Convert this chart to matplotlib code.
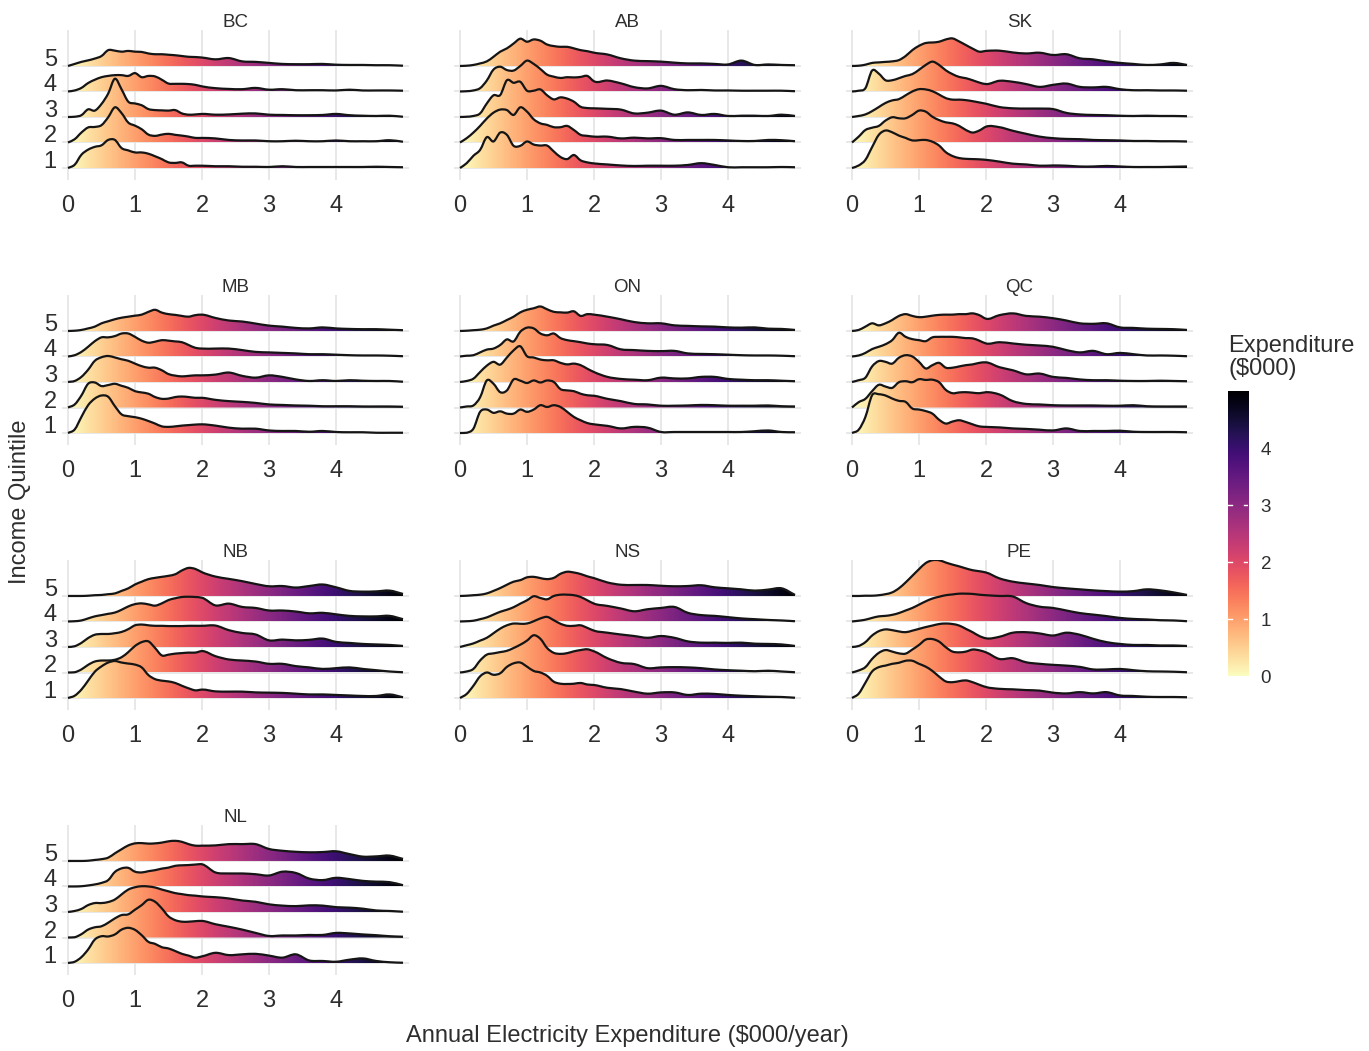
import numpy as np
import matplotlib.pyplot as plt
from matplotlib.path import Path
from matplotlib.patches import PathPatch

plt.rcParams['font.family'] = ['Liberation Sans', 'DejaVu Sans']

# expenditure grid ($000/year) the ridge heights are read at
x = [0, 0.1, 0.2, 0.3, 0.4, 0.5, 0.6, 0.7, 0.8, 0.9, 1.0, 1.1, 1.2, 1.3, 1.4,
     1.5, 1.6, 1.7, 1.8, 1.9, 2.0, 2.2, 2.4, 2.6, 2.8, 3.0, 3.2, 3.4, 3.6,
     3.8, 4.0, 4.2, 4.4, 4.6, 4.8, 5.0]

provinces = ['BC', 'AB', 'SK', 'MB', 'ON', 'QC', 'NB', 'NS', 'PE', 'NL']
quintiles = ['1', '2', '3', '4', '5']
x_ticks = [0, 1, 2, 3, 4]

# scaled density (in ridge-row units) for income quintiles 1..5
bc = [
    [0, .13, .52, .72, .83, .89, 1.10, 1.10, .78, .69, .61, .61, .56, .46, .35, .22, .20, .22, .09, .09, .09,
     .07, .07, .05, .05, .04, .07, .04, .04, .04, .04, .04, .04, .05, .04, .03],
    [0, .13, .39, .59, .61, .68, .99, 1.38, 1.15, .78, .66, .52, .31, .26, .31, .34, .30, .27, .23, .18, .18,
     .16, .10, .08, .08, .05, .05, .07, .05, .05, .08, .05, .05, .05, .09, .03],
    [0, .01, .07, .30, .25, .51, .92, 1.50, 1.08, .60, .53, .46, .31, .27, .26, .25, .27, .14, .09, .10, .12,
     .09, .10, .13, .14, .09, .08, .07, .07, .08, .12, .07, .05, .04, .05, .01],
    [0, .04, .14, .33, .46, .56, .61, .64, .64, .61, .72, .56, .61, .59, .46, .31, .30, .30, .29, .26, .20,
     .13, .10, .09, .14, .07, .09, .05, .05, .05, .04, .07, .04, .04, .04, .03],
    [0, .08, .16, .22, .29, .39, .62, .60, .56, .59, .56, .55, .49, .46, .46, .44, .42, .39, .36, .35, .33,
     .26, .31, .18, .16, .12, .08, .07, .07, .08, .05, .04, .04, .03, .03, .01],
]
ab = [
    [0, .19, .48, .71, 1.21, 1.04, 1.39, 1.30, .87, .87, 1.04, .92, .88, .88, .65, .43, .35, .51, .30, .22, .18,
     .14, .10, .08, .09, .09, .09, .12, .19, .12, .03, .03, .03, .03, .04, .03],
    [0, .17, .39, .65, .94, 1.17, 1.29, 1.27, 1.08, 1.38, 1.21, .91, .75, .69, .60, .60, .65, .49, .30, .26, .23,
     .23, .16, .19, .16, .17, .10, .10, .10, .10, .08, .06, .06, .10, .09, .05],
    [0, .01, .04, .14, .53, .85, .86, 1.44, 1.34, 1.38, 1.03, 1.03, 1.08, .85, .69, .77, .72, .60, .40, .35, .34,
     .32, .29, .14, .17, .25, .09, .18, .08, .12, .04, .05, .05, .04, .09, .04],
    [0, .01, .04, .13, .43, .86, .97, .84, .82, 1.00, 1.21, 1.08, .88, .66, .58, .53, .56, .55, .57, .61, .40,
     .43, .32, .17, .12, .22, .09, .05, .06, .04, .04, .03, .03, .03, .03, .01],
    [0, .01, .04, .10, .18, .36, .56, .69, .88, 1.07, .95, 1.04, .99, .84, .78, .75, .75, .69, .62, .58, .52,
     .45, .30, .21, .19, .17, .13, .10, .10, .08, .06, .21, .04, .06, .04, .03],
]
sk = [
    [0, .10, .32, .82, 1.30, 1.47, 1.40, 1.27, 1.18, 1.08, 1.09, 1.10, 1.03, .88, .62, .47, .39, .36, .35, .34, .32,
     .25, .17, .14, .09, .10, .09, .06, .06, .08, .06, .04, .04, .04, .05, .06],
    [0, .23, .49, .58, .65, .86, .99, .95, .95, 1.08, 1.25, 1.21, 1.01, .88, .79, .75, .65, .49, .39, .47, .62,
     .60, .46, .34, .23, .17, .14, .13, .10, .09, .08, .06, .06, .05, .05, .04],
    [0, .04, .10, .23, .39, .55, .65, .70, .85, 1.00, 1.09, 1.08, 1.01, .88, .74, .68, .68, .66, .62, .57, .52,
     .39, .34, .33, .33, .31, .16, .10, .08, .07, .05, .04, .05, .04, .04, .03],
    [0, .03, .13, .82, .70, .44, .44, .52, .61, .68, .85, 1.04, 1.17, 1.04, .83, .68, .57, .52, .44, .35, .29,
     .42, .38, .29, .18, .26, .31, .18, .16, .18, .09, .05, .05, .04, .04, .03],
    [0, .01, .05, .12, .14, .16, .18, .23, .39, .62, .79, .90, .92, .95, 1.04, 1.08, .96, .82, .68, .56, .59,
     .60, .53, .49, .52, .43, .46, .30, .26, .18, .12, .08, .04, .06, .12, .04],
]
mb = [
    [0, .14, .63, 1.09, 1.35, 1.47, 1.42, 1.05, .73, .66, .62, .56, .47, .37, .26, .24, .26, .29, .31, .33, .34,
     .29, .21, .17, .17, .10, .08, .08, .05, .08, .04, .03, .03, .01, .01, .01],
    [0, .12, .47, .93, .98, .84, .88, .93, .85, .77, .64, .59, .54, .41, .34, .35, .41, .43, .41, .38, .38,
     .30, .25, .22, .18, .12, .10, .08, .07, .05, .05, .05, .04, .04, .04, .03],
    [0, .04, .20, .48, .83, .97, 1.02, .96, .89, .83, .72, .62, .56, .56, .46, .31, .25, .22, .24, .26, .26,
     .29, .37, .24, .17, .26, .20, .10, .04, .07, .04, .07, .05, .04, .04, .01],
    [0, .05, .18, .38, .60, .75, .75, .80, .90, .90, .77, .62, .54, .58, .64, .62, .59, .56, .45, .34, .31,
     .31, .31, .25, .18, .16, .14, .12, .09, .09, .07, .05, .04, .04, .03, .01],
    [0, .01, .04, .10, .17, .30, .38, .46, .52, .56, .60, .64, .75, .83, .72, .66, .63, .59, .56, .62, .64,
     .51, .41, .37, .29, .21, .17, .12, .10, .14, .10, .08, .07, .07, .05, .03],
]
on = [
    [0, .01, .17, .83, .92, .79, .85, .76, .76, .92, .83, .92, 1.09, 1.02, 1.09, 1.02, .83, .63, .50, .39, .34,
     .28, .18, .24, .21, .04, .04, .04, .04, .04, .04, .04, .07, .10, .04, .03],
    [0, .04, .08, .40, 1.06, .93, .60, .67, 1.10, 1.05, .96, 1.06, .98, 1.06, 1.00, .72, .67, .64, .54, .48, .46,
     .34, .25, .14, .12, .07, .07, .08, .10, .09, .07, .07, .07, .08, .05, .04],
    [0, .04, .13, .39, .64, .79, .68, .96, 1.24, 1.40, 1.01, .96, .88, .85, .85, .75, .69, .72, .66, .52, .39,
     .20, .12, .09, .07, .17, .14, .14, .20, .20, .12, .09, .07, .07, .05, .03],
    [0, .03, .05, .16, .27, .31, .45, .67, .59, .97, 1.13, 1.10, .90, .83, .90, .72, .64, .60, .56, .51, .48,
     .45, .28, .25, .22, .21, .22, .12, .10, .09, .07, .05, .04, .04, .03, .01],
    [0, .01, .03, .05, .10, .21, .30, .43, .56, .73, .83, .89, .96, .85, .75, .73, .72, .77, .59, .66, .64,
     .56, .46, .35, .30, .30, .22, .20, .18, .17, .14, .13, .14, .09, .08, .04],
]
qc = [
    [0, .13, .63, 1.48, 1.52, 1.47, 1.35, 1.26, 1.22, .96, .92, .86, .76, .52, .37, .45, .50, .43, .34, .26, .24,
     .22, .18, .16, .13, .10, .18, .08, .08, .08, .09, .05, .04, .04, .04, .03],
    [0, .21, .34, .64, .89, .82, .77, .99, 1.03, .99, 1.11, 1.08, 1.09, .99, .69, .56, .59, .60, .58, .56, .60,
     .51, .25, .14, .12, .09, .08, .08, .08, .07, .07, .09, .05, .04, .04, .04],
    [0, .07, .17, .61, .82, .79, .72, .95, 1.05, 1.00, .79, .53, .66, .75, .56, .56, .61, .66, .69, .75, .77,
     .58, .46, .30, .33, .20, .16, .10, .07, .07, .05, .04, .04, .05, .04, .03],
    [0, .04, .14, .29, .38, .48, .64, .93, .77, .68, .64, .60, .75, .77, .77, .77, .75, .72, .71, .62, .51,
     .56, .51, .46, .43, .38, .25, .16, .22, .09, .14, .09, .04, .04, .03, .01],
    [0, .04, .17, .30, .22, .30, .43, .59, .66, .59, .54, .56, .60, .63, .64, .64, .66, .66, .69, .62, .48,
     .62, .69, .59, .56, .50, .41, .30, .28, .30, .14, .12, .09, .08, .07, .04],
]
nb = [
    [0, .09, .33, .68, 1.03, 1.24, 1.39, 1.45, 1.39, 1.35, 1.31, 1.20, .90, .74, .68, .65, .59, .48, .38, .30, .33,
     .26, .25, .25, .22, .21, .20, .17, .14, .14, .12, .10, .08, .08, .14, .03],
    [0, .01, .12, .30, .43, .47, .47, .50, .60, .80, 1.04, 1.19, 1.22, .96, .67, .70, .74, .76, .78, .78, .84,
     .64, .51, .47, .43, .34, .34, .25, .20, .14, .17, .20, .14, .09, .04, .01],
    [0, .03, .16, .35, .48, .51, .51, .54, .59, .70, .85, .88, .85, .83, .83, .82, .82, .82, .83, .83, .83,
     .84, .66, .55, .49, .26, .29, .26, .28, .33, .20, .16, .12, .10, .08, .04],
    [0, .01, .04, .12, .20, .25, .30, .35, .46, .59, .68, .71, .67, .62, .71, .84, .91, .96, .97, .96, .93,
     .63, .70, .57, .53, .43, .43, .39, .32, .34, .28, .22, .20, .20, .22, .09],
    [0, 0, 0, .01, .03, .04, .07, .10, .20, .30, .45, .56, .66, .71, .75, .79, .85, 1.00, 1.10, 1.06, .93,
     .76, .67, .58, .47, .38, .39, .33, .39, .45, .34, .20, .17, .18, .21, .08],
]
ns = [
    [0, .16, .48, .85, 1.00, .91, .97, 1.22, 1.36, 1.39, 1.23, 1.06, 1.00, .87, .64, .56, .55, .56, .59, .53, .51,
     .40, .35, .25, .17, .22, .22, .12, .17, .16, .12, .09, .07, .05, .04, .01],
    [0, .04, .14, .47, .70, .75, .80, .85, .96, 1.09, 1.25, 1.46, 1.32, .96, .77, .73, .76, .83, .88, .91, .83,
     .56, .38, .33, .17, .20, .21, .20, .17, .12, .09, .07, .05, .07, .04, .01],
    [0, .07, .14, .25, .36, .54, .72, .85, .92, .91, .92, 1.01, 1.12, 1.18, 1.05, .91, .83, .83, .85, .75, .64,
     .56, .49, .43, .36, .43, .36, .22, .17, .17, .16, .17, .13, .12, .10, .04],
    [0, .01, .03, .09, .16, .27, .38, .46, .56, .70, .83, .99, .92, .87, 1.00, 1.05, 1.05, 1.03, .96, .83, .70,
     .61, .51, .40, .48, .53, .57, .34, .25, .22, .17, .12, .09, .06, .04, .01],
    [0, .01, .03, .05, .10, .20, .31, .44, .56, .62, .73, .75, .70, .66, .71, .87, .95, .92, .86, .77, .70,
     .53, .44, .43, .43, .40, .38, .39, .42, .34, .30, .26, .21, .25, .30, .04],
]
pe = [
    [0, .17, .60, 1.04, 1.21, 1.27, 1.34, 1.38, 1.46, 1.46, 1.34, 1.23, 1.06, .84, .65, .62, .66, .69, .62, .52, .43,
     .36, .34, .31, .29, .21, .18, .23, .18, .23, .10, .08, .05, .04, .04, .03],
    [0, .08, .21, .53, .77, .88, .82, .75, .74, .90, 1.08, 1.29, 1.31, 1.21, .99, .82, .79, .82, .90, .87, .79,
     .53, .56, .40, .34, .30, .27, .22, .12, .12, .14, .09, .05, .04, .03, .01],
    [0, .04, .19, .45, .62, .69, .66, .61, .58, .64, .71, .78, .84, .90, .92, .90, .84, .71, .58, .43, .34,
     .40, .56, .58, .53, .45, .56, .48, .32, .19, .12, .08, .08, .06, .06, .04],
    [0, .03, .07, .14, .20, .22, .26, .33, .43, .53, .66, .79, .90, .97, 1.03, 1.06, 1.09, 1.09, 1.08, 1.05, 1.03,
     1.00, .98, .72, .58, .53, .43, .33, .27, .21, .14, .10, .08, .05, .04, .01],
    [0, 0, .01, .01, .03, .07, .14, .30, .53, .79, 1.05, 1.29, 1.40, 1.40, 1.31, 1.23, 1.16, 1.08, 1.01, .97, .92,
     .69, .56, .49, .43, .35, .30, .26, .22, .19, .17, .19, .26, .22, .14, .04],
]
nl = [
    [0, .05, .23, .53, .92, 1.05, 1.04, 1.12, 1.31, 1.38, 1.30, 1.09, .83, .75, .62, .57, .47, .36, .29, .21, .26,
     .40, .31, .34, .36, .29, .21, .34, .10, .08, .05, .13, .18, .08, .03, .01],
    [0, .01, .13, .31, .40, .44, .58, .75, .88, .91, 1.09, 1.27, 1.48, 1.40, 1.14, .83, .68, .62, .62, .64, .65,
     .52, .42, .31, .18, .06, .08, .08, .10, .10, .18, .16, .12, .09, .05, .03],
    [0, .04, .12, .27, .35, .35, .39, .49, .69, .88, .97, 1.01, 1.00, .96, .88, .81, .74, .70, .66, .64, .61,
     .58, .53, .45, .40, .30, .25, .23, .26, .25, .19, .17, .13, .06, .04, .01],
    [0, 0, .01, .04, .08, .14, .25, .57, .71, .73, .58, .55, .60, .64, .70, .74, .81, .83, .84, .86, .87,
     .55, .51, .51, .48, .43, .58, .53, .31, .25, .34, .29, .22, .19, .17, .05],
    [0, 0, 0, .01, .04, .07, .13, .30, .46, .61, .69, .70, .68, .69, .72, .77, .79, .75, .66, .60, .60,
     .61, .66, .66, .66, .47, .40, .36, .34, .35, .38, .27, .17, .18, .21, .08],
]
ridges = [bc, ab, sk, mb, on, qc, nb, ns, pe, nl]

TEXT = '#2e2e2e'
GRID = '#e6e6e6'
CMAP = 'magma_r'
VMAX = 5.0
XLIM = (-0.085, 5.085)


def ridge_paths(xs, hs, base):
    """Smooth Bezier outline through the ridge heights, plus a closed fill path."""
    xs = np.asarray(xs, float)
    ys = base + np.asarray(hs, float)
    slope = np.gradient(ys, xs)
    verts = [(xs[0], ys[0])]
    codes = [Path.MOVETO]
    for i in range(len(xs) - 1):
        d = (xs[i + 1] - xs[i]) / 3
        verts += [(xs[i] + d, max(ys[i] + slope[i] * d, base)),
                  (xs[i + 1] - d, max(ys[i + 1] - slope[i + 1] * d, base)),
                  (xs[i + 1], ys[i + 1])]
        codes += [Path.CURVE4] * 3
    line = Path(verts, codes)
    fill = Path(verts + [(xs[-1], base), (xs[0], base), (xs[0], base)],
                codes + [Path.LINETO, Path.LINETO, Path.CLOSEPOLY])
    return line, fill


W, H = 1369, 1051
fig = plt.figure(figsize=(W / 100, H / 100), dpi=100)

grad = np.linspace(0, VMAX, 400)[None, :]
ax_w = (XLIM[1] - XLIM[0]) * 67

for i, (prov, curves) in enumerate(zip(provinces, ridges)):
    r, c = divmod(i, 3)
    left = 68 + XLIM[0] * 67 + 392 * c
    top = 30 + 265 * r
    ax = fig.add_axes([left / W, 1 - (top + 150) / H, ax_w / W, 150 / H])

    for k, h in enumerate(curves):
        base = k + 1
        z = 10 + (4 - k) * 2  # lower quintiles sit in front
        line, fill = ridge_paths(x, h, base)
        clip = PathPatch(fill, facecolor='none', edgecolor='none', zorder=z)
        ax.add_patch(clip)
        im = ax.imshow(grad, extent=(0, VMAX, base, base + 2), origin='lower',
                       aspect='auto', cmap=CMAP, vmin=0, vmax=VMAX,
                       interpolation='bilinear', zorder=z)
        im.set_clip_path(clip)
        ax.add_patch(PathPatch(line, facecolor='none', edgecolor='#151515',
                               lw=1.6, zorder=z + 1, joinstyle='round'))

    ax.set_xlim(*XLIM)
    ax.set_ylim(0.53, 6.41)
    ax.set_xticks(x_ticks)
    ax.set_xticklabels([str(t) for t in x_ticks], fontsize=17, color=TEXT)
    ax.set_yticks(range(1, 6))
    if c == 0:
        ax.set_yticklabels(quintiles, fontsize=17, color=TEXT)
        for lab in ax.get_yticklabels():
            lab.set_verticalalignment('baseline')
    else:
        ax.set_yticklabels([])
    ax.tick_params(axis='x', length=0, pad=11)
    ax.tick_params(axis='y', length=0, pad=4)
    ax.grid(True, color=GRID, lw=1.3)
    ax.set_axisbelow(True)
    for s in ax.spines.values():
        s.set_visible(False)
    ax.text(0.5, 1.02, prov, transform=ax.transAxes, ha='center',
            va='baseline', fontsize=13.5, color=TEXT)

fig.text(627 / W, 1 - 1036 / H, 'Annual Electricity Expenditure ($000/year)',
         ha='center', va='center', fontsize=17, color=TEXT)
fig.text(20 / W, 1 - 502 / H, 'Income Quintile', rotation=90,
         ha='center', va='center', fontsize=17, color=TEXT)

# colour legend
cax = fig.add_axes([1228 / W, 1 - 678 / H, 20 / W, 288 / H])
cax.imshow(np.linspace(0, VMAX, 256)[:, None], extent=(0, 1, 0, VMAX),
           origin='lower', aspect='auto', cmap=CMAP, vmin=0, vmax=VMAX)
cax.set_xlim(0, 1)
cax.set_ylim(-0.035, 5.02)
for v in [1, 2, 3]:
    cax.plot([0, 0.22], [v, v], color='white', lw=1)
    cax.plot([0.78, 1], [v, v], color='white', lw=1)
cax.set_xticks([])
cax.yaxis.tick_right()
cax.set_yticks(x_ticks)
cax.set_yticklabels([str(t) for t in x_ticks], fontsize=13.5, color=TEXT)
cax.tick_params(axis='y', length=0, pad=9)
for s in cax.spines.values():
    s.set_visible(False)
fig.text(1228 / W, 1 - 352 / H, 'Expenditure', ha='left', va='baseline',
         fontsize=17, color=TEXT)
fig.text(1228 / W, 1 - 375 / H, '($000)', ha='left', va='baseline',
         fontsize=17, color=TEXT)

fig.savefig('out.png', dpi=100, facecolor='white')
